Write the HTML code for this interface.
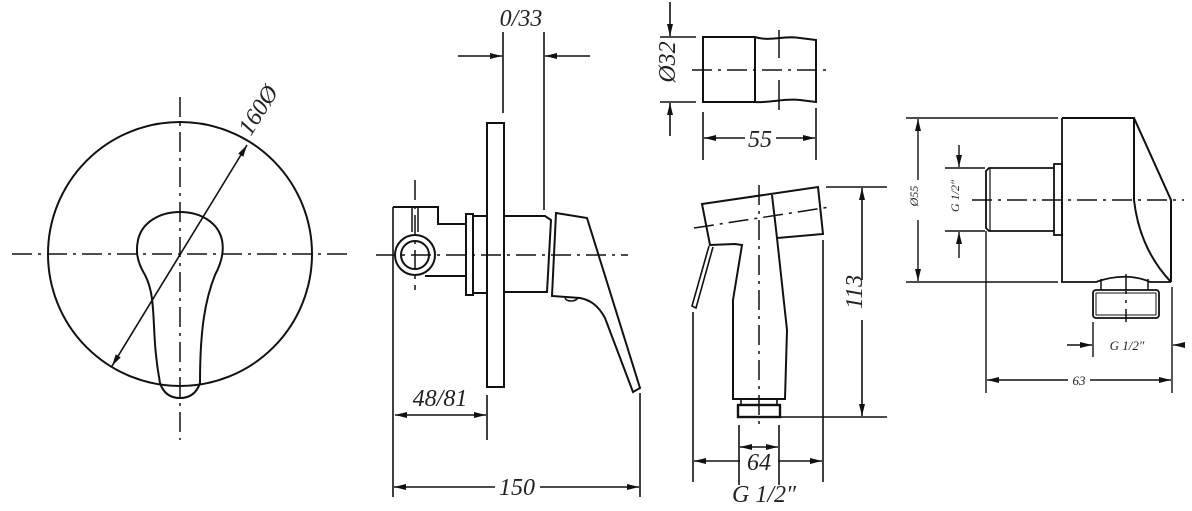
<!DOCTYPE html>
<html><head><meta charset="utf-8"><style>
html,body{margin:0;padding:0;background:#fff;}
svg{display:block;}
text{font-family:"Liberation Serif",serif;font-style:italic;fill:#222;}
</style></head><body>
<svg width="1192" height="511" viewBox="0 0 1192 511" xmlns="http://www.w3.org/2000/svg">
<defs>
<marker id="a" viewBox="0 0 12 6" refX="12" refY="3" markerWidth="12" markerHeight="6" orient="auto-start-reverse" markerUnits="userSpaceOnUse"><path d="M0,0 L12,3 L0,6 Z" fill="#111"/></marker>
</defs>
<g fill="none" stroke="#111" stroke-width="2">
<!-- LEFT: front view -->
<circle cx="180" cy="254" r="132"/>
<path d="M160,383 C150,330 158,300 145,275 C136,260 136,250 138,240 C142,222 160,212 180,212 C200,212 218,222 222,240 C224,250 222,262 215,275 C205,300 200,330 200,383 C196,395 188,398 180,398 C172,398 164,395 160,383 Z"/>
<line x1="112" y1="366" x2="247" y2="145" stroke-width="1.6" marker-start="url(#a)" marker-end="url(#a)"/>
<g stroke-width="1.5" stroke-dasharray="20 6 3 6">
<line x1="12" y1="254" x2="348" y2="254"/>
<line x1="180" y1="97" x2="180" y2="440"/>
</g>

<!-- SIDE VIEW -->
<rect x="487" y="123" width="17" height="264"/>
<path d="M393,207 H438 V224 H466"/>
<path d="M425,276 H466"/>
<rect x="466" y="214" width="7" height="81"/>
<path d="M473,216 H487 M473,293 H487 M504,216 H545 L551,220 L547,292 H504"/>
<circle cx="415" cy="255" r="20"/>
<circle cx="415" cy="255" r="14"/>
<path d="M412,207 V232 M418,207 V232" stroke-width="1.5"/>
<path d="M556,213 L587,218 L640,388 L633,392 L605,318 C598,305 590,300 580,298 L552,296 Z"/>
<path d="M565,298 C567,302 575,302 578,298" stroke-width="1.5"/>
<line x1="393" y1="207" x2="393" y2="497" stroke-width="1.6"/>
<line x1="487" y1="395" x2="487" y2="440" stroke-width="1.6"/>
<line x1="640" y1="393" x2="640" y2="497" stroke-width="1.6"/>
<line x1="503" y1="32" x2="503" y2="113" stroke-width="1.6"/>
<line x1="544" y1="32" x2="544" y2="210" stroke-width="1.6"/>
<line x1="458" y1="56" x2="502" y2="56" stroke-width="1.6" marker-end="url(#a)"/>
<line x1="590" y1="56" x2="545" y2="56" stroke-width="1.6" marker-end="url(#a)"/>
<line x1="395" y1="415" x2="486" y2="415" stroke-width="1.6" marker-start="url(#a)" marker-end="url(#a)"/>
<line x1="394" y1="487" x2="495" y2="487" stroke-width="1.6" marker-start="url(#a)"/>
<line x1="540" y1="487" x2="639" y2="487" stroke-width="1.6" marker-end="url(#a)"/>
<g stroke-width="1.5" stroke-dasharray="20 6 3 6">
<line x1="376" y1="255" x2="628" y2="255"/>
<line x1="415" y1="180" x2="415" y2="290"/>
</g>

<!-- Ø32 cylinder -->
<path d="M755,37 H703 V102 H755"/>
<path d="M755,37 C770,42 785,35 800,38 L816,40 V102 L800,100 C785,98 770,103 755,102 V37"/>
<g stroke-width="1.5" stroke-dasharray="20 6 3 6">
<line x1="692" y1="70" x2="828" y2="70"/>
</g>
<line x1="779" y1="30" x2="779" y2="58" stroke-width="1.5"/>
<line x1="779" y1="80" x2="779" y2="110" stroke-width="1.5"/>
<line x1="660" y1="37" x2="696" y2="37" stroke-width="1.6"/>
<line x1="660" y1="102" x2="696" y2="102" stroke-width="1.6"/>
<line x1="670" y1="2" x2="670" y2="36" stroke-width="1.6" marker-end="url(#a)"/>
<line x1="670" y1="136" x2="670" y2="103" stroke-width="1.6" marker-end="url(#a)"/>
<line x1="703" y1="112" x2="703" y2="160" stroke-width="1.6"/>
<line x1="816" y1="108" x2="816" y2="160" stroke-width="1.6"/>
<line x1="704" y1="138" x2="745" y2="138" stroke-width="1.6" marker-start="url(#a)"/>
<line x1="776" y1="138" x2="815" y2="138" stroke-width="1.6" marker-end="url(#a)"/>

<!-- Sprayer -->
<path d="M702,204 L818,187 L823,234 L777,238 L787,330 L785,399 H733 V300 L742,245 L735,244 L710,245 Z"/>
<line x1="772" y1="195" x2="777" y2="238"/>
<path d="M709,246 L692,306 L696,308 L713,247" stroke-width="1.6"/>
<rect x="741" y="399" width="36" height="6" stroke-width="1.6"/>
<rect x="738" y="405" width="42" height="12" stroke-width="2.4"/>
<g stroke-width="1.5" stroke-dasharray="20 6 3 6">
<line x1="759" y1="185" x2="759" y2="427"/>
<line x1="694" y1="228" x2="830" y2="207"/>
</g>
<line x1="826" y1="187" x2="887" y2="187" stroke-width="1.6"/>
<line x1="780" y1="417" x2="887" y2="417" stroke-width="1.6"/>
<line x1="862" y1="188" x2="862" y2="280" stroke-width="1.6" marker-start="url(#a)"/>
<line x1="862" y1="320" x2="862" y2="416" stroke-width="1.6" marker-end="url(#a)"/>
<line x1="693" y1="312" x2="693" y2="482" stroke-width="1.6"/>
<line x1="823" y1="240" x2="823" y2="482" stroke-width="1.6"/>
<line x1="739" y1="425" x2="739" y2="485" stroke-width="1.6"/>
<line x1="779" y1="425" x2="779" y2="485" stroke-width="1.6"/>
<line x1="740" y1="447" x2="778" y2="447" stroke-width="1.5" marker-start="url(#a)" marker-end="url(#a)"/>
<line x1="694" y1="461" x2="740" y2="461" stroke-width="1.6" marker-start="url(#a)"/>
<line x1="778" y1="461" x2="822" y2="461" stroke-width="1.6" marker-end="url(#a)"/>

<!-- Right view -->
<path d="M1062,118 H1134 L1171,200 V282 M1134,118 V200 C1138,235 1152,262 1171,282"/>
<path d="M1062,118 V282 H1096 C1115,275 1135,275 1150,282 H1171" stroke-width="1.8"/>
<path d="M1101,279 V290 M1148,279 V290" stroke-width="1.5"/>
<rect x="1054" y="164" width="8" height="71" stroke-width="1.8"/>
<path d="M1054,168 H989 L986,171 V228 L989,231 H1054" stroke-width="1.8"/>
<line x1="990" y1="168" x2="990" y2="231" stroke-width="1.2"/>
<rect x="1093" y="290" width="66" height="28" rx="3" stroke-width="1.8"/>
<rect x="1096" y="293" width="60" height="22" stroke-width="1"/>
<g stroke-width="1.5" stroke-dasharray="20 6 3 6">
<line x1="972" y1="200" x2="1184" y2="200"/>
<line x1="1126" y1="274" x2="1126" y2="322"/>
</g>
<g stroke-width="1.4">
<line x1="906" y1="118" x2="1058" y2="118"/>
<line x1="906" y1="282" x2="1058" y2="282"/>
<line x1="918" y1="119" x2="918" y2="180" marker-start="url(#a)"/>
<line x1="918" y1="220" x2="918" y2="281" marker-end="url(#a)"/>
<line x1="945" y1="168" x2="985" y2="168"/>
<line x1="945" y1="231" x2="985" y2="231"/>
<line x1="959" y1="145" x2="959" y2="167" marker-end="url(#a)"/>
<line x1="959" y1="258" x2="959" y2="232" marker-end="url(#a)"/>
<line x1="1093" y1="322" x2="1093" y2="357"/>
<line x1="1172" y1="287" x2="1172" y2="393"/>
<line x1="986" y1="231" x2="986" y2="393"/>
<line x1="1067" y1="345" x2="1092" y2="345" marker-end="url(#a)"/>
<line x1="1185" y1="345" x2="1173" y2="345" marker-end="url(#a)"/>
<line x1="987" y1="380" x2="1068" y2="380" marker-start="url(#a)"/>
<line x1="1090" y1="380" x2="1171" y2="380" marker-end="url(#a)"/>
</g>
</g>

<g>
<text x="258" y="118" font-size="24" text-anchor="middle" transform="rotate(-58 258 110)">160Ø</text>
<text x="521" y="26" font-size="24" text-anchor="middle">0/33</text>
<text x="440" y="406" font-size="24" text-anchor="middle">48/81</text>
<text x="517" y="495" font-size="24" text-anchor="middle">150</text>
<text x="760" y="147" font-size="24" text-anchor="middle">55</text>
<text x="683" y="70" font-size="24" text-anchor="middle" transform="rotate(-90 675 70)">Ø32</text>
<text x="870" y="300" font-size="24" text-anchor="middle" transform="rotate(-90 862 300)">113</text>
<text x="759" y="470" font-size="24" text-anchor="middle">64</text>
<text x="764" y="502" font-size="24" text-anchor="middle">G 1/2″</text>
<text x="922" y="200" font-size="12" text-anchor="middle" transform="rotate(-90 918 200)">Ø55</text>
<text x="963" y="200" font-size="12" text-anchor="middle" transform="rotate(-90 959 200)">G 1/2″</text>
<text x="1127" y="350" font-size="13" text-anchor="middle">G 1/2″</text>
<text x="1079" y="385" font-size="13" text-anchor="middle">63</text>
</g>
</svg>
</body></html>
